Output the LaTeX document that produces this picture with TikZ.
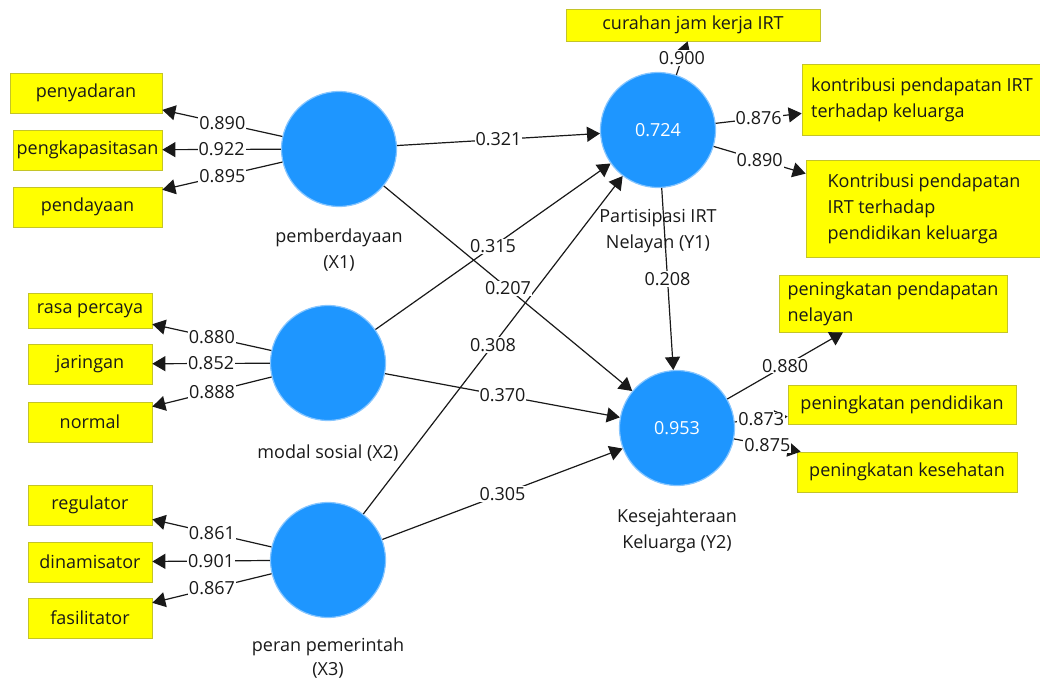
\documentclass[tikz,border=0pt]{standalone}
\usepackage{fontspec}
\setmainfont{Open Sans}
\usetikzlibrary{arrows.meta,positioning}
\definecolor{lvblue}{RGB}{30,150,255}
\definecolor{lvrim}{RGB}{135,198,255}
\definecolor{indfill}{RGB}{255,255,0}
\definecolor{indrim}{RGB}{196,196,40}
\newcommand{\diagfont}{\fontsize{18pt}{26pt}\selectfont}
\tikzset{
  lv/.style={circle,fill=lvblue,draw=lvrim,line width=1.2pt,minimum size=115pt,inner sep=0pt,text=white},
  ind/.style={rectangle,fill=indfill,draw=indrim,line width=0.7pt,inner sep=0pt,minimum height=40pt,text=black!90},
  lvname/.style={align=center,inner sep=2pt,text=black!90},
  link/.style={line width=1.2pt,black!90,-{Triangle[length=13pt,width=15pt]}},
  coef/.style={fill=white,inner sep=1pt,text=black!90}
}
% outer loadings and path coefficients
\newcommand{\loadings}{x1/i11/0.890,x1/i12/0.922,x1/i13/0.895,
  x2/i21/0.880,x2/i22/0.852,x2/i23/0.888,
  x3/i31/0.861,x3/i32/0.901,x3/i33/0.867,
  y1/j11/0.900,y1/j12/0.876,y1/j13/0.890,
  y2/k11/0.880,y2/k12/0.873,y2/k13/0.875}
\newcommand{\paths}{x1/y1/0.321,x1/y2/0.207,x2/y1/0.315,x2/y2/0.370,
  x3/y1/0.308,x3/y2/0.305,y1/y2/0.208}
\begin{document}
\begin{tikzpicture}[x=1pt,y=-1pt,font=\diagfont]
\useasboundingbox (0,0) rectangle (1040,684);

\node[ind,minimum width=152pt] (i11) at (86,93) {penyadaran};
\node[ind,minimum width=149pt] (i12) at (87.5,150) {pengkapasitasan};
\node[ind,minimum width=149pt] (i13) at (87.5,207) {pendayaan};
\node[ind,minimum width=124pt,minimum height=35pt] (i21) at (90,310.5) {rasa percaya};
\node[ind,minimum width=124pt] (i22) at (90,364) {jaringan};
\node[ind,minimum width=124pt] (i23) at (90,422) {normal};
\node[ind,minimum width=124pt] (i31) at (90,505) {regulator};
\node[ind,minimum width=124pt] (i32) at (90,562) {dinamisator};
\node[ind,minimum width=124pt] (i33) at (90,618) {fasilitator};

\node[ind,minimum width=254pt,minimum height=32pt] (j11) at (693,25) {curahan jam kerja IRT};
\node[ind,minimum width=240pt,minimum height=71pt,align=left] (j12) at (922,99.5)
  {kontribusi pendapatan IRT\\terhadap keluarga};
\node[ind,minimum width=236pt,minimum height=97pt,align=left] (j13) at (924,208.5)
  {Kontribusi pendapatan\\IRT terhadap\\pendidikan keluarga};
\node[ind,minimum width=228pt,minimum height=57pt,align=left] (k11) at (893,303.5)
  {peningkatan pendapatan\\nelayan};
\node[ind,minimum width=228pt,minimum height=39pt] (k12) at (902,404.5) {peningkatan pendidikan};
\node[ind,minimum width=220pt] (k13) at (907,472) {peningkatan kesehatan};

\node[lv] (x1) at (339,149) {};
\node[lv] (x2) at (328,363) {};
\node[lv] (x3) at (328,560) {};
\node[lv] (y1) at (658,130) {0.724};
\node[lv] (y2) at (677,428) {0.953};

\node[lvname,below=20pt of x1] (x1name) {pemberdayaan\\(X1)};
\node[lvname,below=22pt of x2] (x2name) {modal sosial (X2)};
\node[lvname,below=18pt of x3,font=\fontsize{18pt}{24pt}\selectfont] (x3name) {peran pemerintah\\(X3)};
\node[lvname,below=19pt of y1] (y1name) {Partisipasi IRT\\Nelayan (Y1)};
\node[lvname,below=21pt of y2] (y2name) {Kesejahteraan\\Keluarga (Y2)};

\foreach \a/\b/\val in \loadings
  \draw[link] (\a) -- (\b);
\foreach \a/\b/\val in \paths
  \draw[link] (\a) -- (\b);
\foreach \a/\b/\val in \loadings
  \path (\a) -- (\b) node[coef,midway] {\val};
\foreach \a/\b/\val in \paths
  \path (\a) -- (\b) node[coef,midway] {\val};
\end{tikzpicture}
\end{document}
